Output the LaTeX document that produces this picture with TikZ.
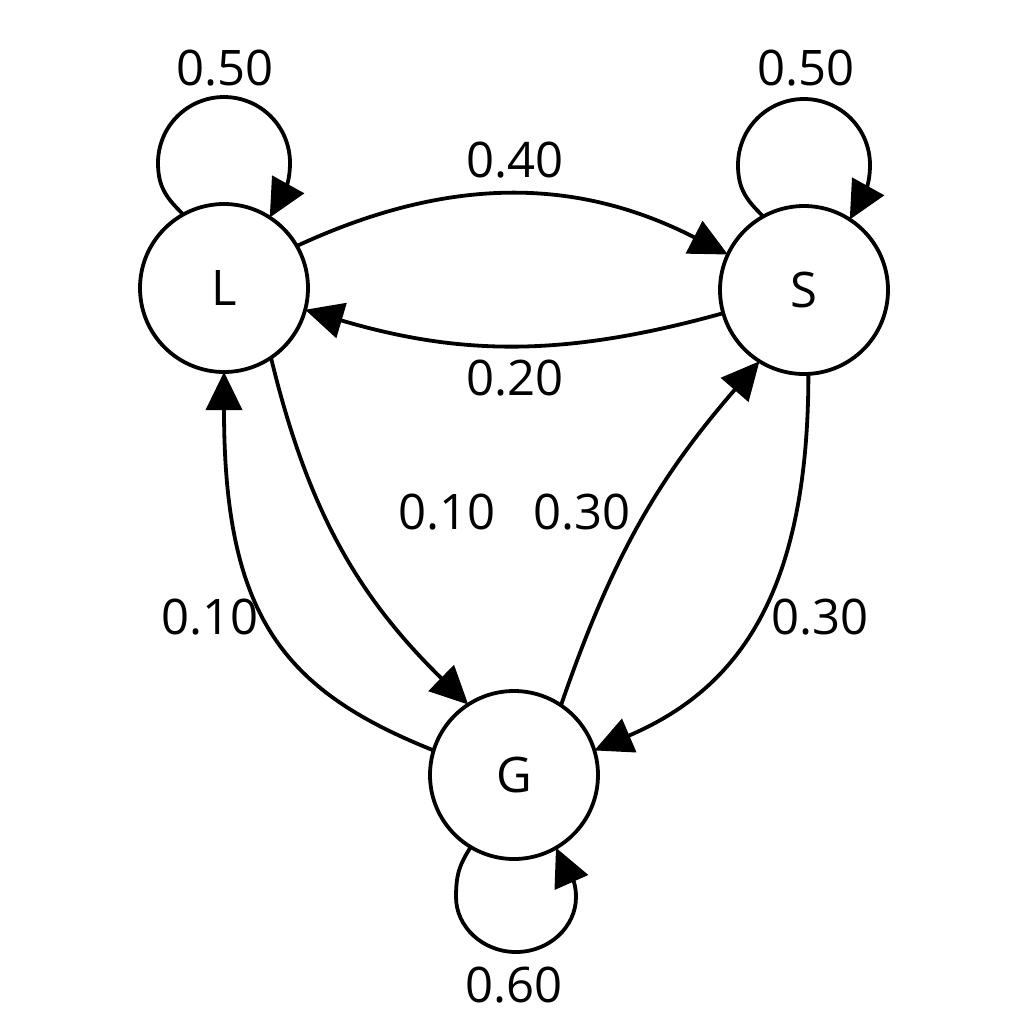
\documentclass[tikz,border=0pt]{standalone}
\usepackage{fontspec}
\setmainfont{Open Sans}
\usetikzlibrary{arrows.meta}
\begin{document}
\begin{tikzpicture}[x=0.5pt,y=-0.5pt,
  state/.style={circle,draw,line width=1.9pt,minimum size=84pt,inner sep=0pt,outer sep=0pt,font=\fontsize{24.5}{29}\selectfont},
  lbl/.style={font=\fontsize{24.5}{29}\selectfont,inner sep=0pt},
  edge/.style={line width=1.9pt,-{Triangle[length=19pt,width=18pt]}}]
\useasboundingbox (0,0) rectangle (1024,1024);
\node[state] (L) at (224,288) {L};
\node[state] (S) at (804,290) {S};
\node[state] (G) at (514,775) {G};
% edges
\draw[edge] (L.30) to[bend left=26] (S.155);
\draw[edge] (S.196) to[bend left=16] (L.345);
\draw[edge] (L.-56) to[bend right=16] (G.123);
\draw[edge] (G.163) .. controls +(-150,-60) and +(0,245) .. (L.270);
\draw[edge] (G.56) to[bend left=11] (S.238);
\draw[edge] (S.-87) .. controls +(0,225) and +(140,-60) .. (G.17);
% loops
\draw[edge] (L.119) .. controls +(-16,-16) and +(0,25) .. ([shift={(-66,-125)}]L.center)
  .. controls +(0,-36.5) and +(-36.5,0) .. ([shift={(0,-191)}]L.center)
  .. controls +(36.5,0) and +(0,-36.5) .. ([shift={(66,-125)}]L.center)
  .. controls +(0,25) and +(10,-18) .. (L.57);
\draw[edge] (S.119) .. controls +(-16,-16) and +(0,25) .. ([shift={(-66,-125)}]S.center)
  .. controls +(0,-36.5) and +(-36.5,0) .. ([shift={(0,-191)}]S.center)
  .. controls +(36.5,0) and +(0,-36.5) .. ([shift={(66,-125)}]S.center)
  .. controls +(0,25) and +(10,-18) .. (S.57);
\draw[edge] (G.239) .. controls +(-10,16) and +(0,-25) .. ([shift={(-58,122)}]G.center)
  .. controls +(0,30) and +(-33,0) .. ([shift={(2,177)}]G.center)
  .. controls +(33,0) and +(0,30) .. ([shift={(62,122)}]G.center)
  .. controls +(0,-22) and +(8,18) .. (G.300);
% labels
\node[lbl] (lLL) at (225,68) {0.50};
\node[lbl] (lSS) at (806,68) {0.50};
\node[lbl] (lLS) at (515,160) {0.40};
\node[lbl] (lSL) at (515,378) {0.20};
\node[lbl] (lLG) at (447,512) {0.10};
\node[lbl] (lGS) at (582,512) {0.30};
\node[lbl] (lGL) at (210,617) {0.10};
\node[lbl] (lSG) at (820,617) {0.30};
\node[lbl] (lGG) at (514,985) {0.60};
\end{tikzpicture}
\end{document}
